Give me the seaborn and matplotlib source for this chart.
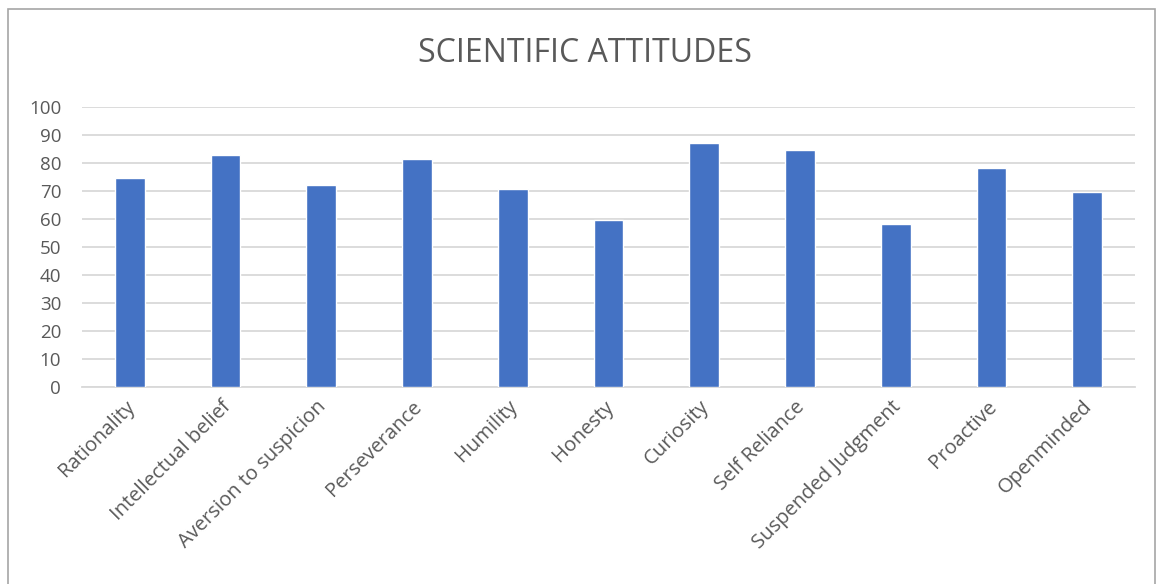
import matplotlib
matplotlib.use("Agg")
import matplotlib.pyplot as plt
import matplotlib.transforms as mtransforms
import seaborn as sns
import pandas as pd
from matplotlib.patches import Rectangle

categories = ["Rationality", "Intellectual belief", "Aversion to suspicion",
              "Perseverance", "Humility", "Honesty", "Curiosity",
              "Self Reliance", "Suspended Judgment", "Proactive", "Openminded"]
scores = [74.5, 82.7, 72.3, 81.3, 70.8, 59.5, 87.3, 84.5, 58.1, 78.2, 69.5]
y_ticks = [0, 10, 20, 30, 40, 50, 60, 70, 80, 90, 100]
title = "SCIENTIFIC ATTITUDES"

sns.set_theme(style="white")
plt.rcParams["font.family"] = ["Open Sans", "DejaVu Sans"]

text_grey = "#595959"
grid_grey = "#d9d9d9"
bar_blue = "#4472C4"

df = pd.DataFrame({"attitude": categories, "score": scores})

W, H = 1157, 584
fig = plt.figure(figsize=(W / 100, H / 100), dpi=100)
ax = fig.add_axes([82 / W, 1 - 387 / H, (1135 - 82) / W, (387 - 107) / H])

sns.barplot(data=df, x="attitude", y="score", color=bar_blue, width=0.31,
            saturation=1, ax=ax, zorder=3)

ax.set_ylim(0, 100)
ax.set_xlim(-0.5, len(categories) - 0.5)
ax.set_yticks(y_ticks)
ax.set_yticklabels([str(t) for t in y_ticks], fontsize=13.5, color=text_grey)
ax.yaxis.grid(True, color=grid_grey, linewidth=1.3, zorder=0)
ax.set_axisbelow(True)
ax.tick_params(axis="y", length=0, pad=15)
ax.tick_params(axis="x", length=0, pad=7)
ax.set_xticks(range(len(categories)))
ax.set_xticklabels(categories, rotation=45, ha="right", rotation_mode="anchor",
                   fontsize=14.5, color=text_grey)
# nudge the slanted category labels slightly left of their ticks
shift = mtransforms.ScaledTranslation(-5 / 100, 0, fig.dpi_scale_trans)
for lbl in ax.get_xticklabels():
    lbl.set_transform(lbl.get_transform() + shift)
ax.set_xlabel("")
ax.set_ylabel("")
for side in ["top", "right", "left"]:
    ax.spines[side].set_visible(False)
ax.spines["bottom"].set_color(grid_grey)
ax.spines["bottom"].set_linewidth(1.3)

fig.text(585 / W, 1 - 53 / H, title, ha="center", va="center",
         fontsize=23, color=text_grey)

# chart-area frame
fig.patches.append(Rectangle((8 / W, -0.05), (1155 - 8) / W, 1 - 9 / H + 0.05,
                             transform=fig.transFigure, fill=False,
                             edgecolor="#a6a6a6", linewidth=1.2))

fig.savefig("out.png", dpi=100)
